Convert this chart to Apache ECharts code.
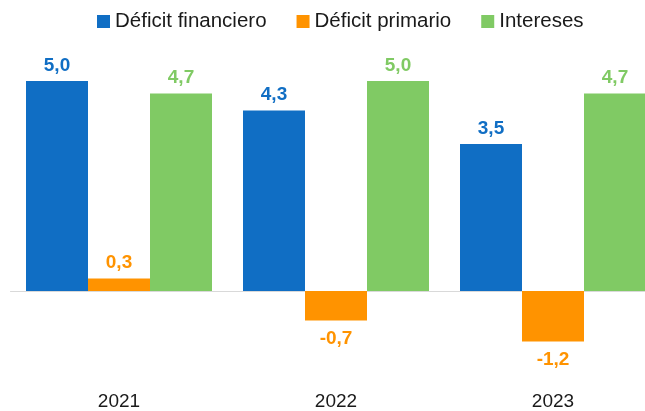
<!DOCTYPE html>
<html>
<head>
    <meta charset="utf-8">
    <title>Déficit financiero, primario e intereses</title>
</head>
<body style="margin: 0;">
    <div id="chartContainer" style="width: 645px; height: 411px;"></div>

    <script type="text/javascript" src="https://cdn.jsdelivr.net/npm/echarts@6/dist/echarts.min.js"></script>
    <script type="text/javascript">
        var years = ['2021', '2022', '2023'];
        var deficitFinanciero = [5.0, 4.3, 3.5];
        var deficitPrimario = [0.3, -0.7, -1.2];
        var intereses = [4.7, 5.0, 4.7];

        var colors = ['#106ec4', '#ff9300', '#80ca64'];

        var dom = document.getElementById('chartContainer');
        var myChart = echarts.init(dom);

        function fmt(p) {
            return p.value.toFixed(1).replace('.', ',');
        }

        // negative bars get their label underneath
        function withLabels(values) {
            return values.map(function (v) {
                return {
                    value: v,
                    label: v < 0 ? { position: 'bottom', distance: 9 } : { position: 'top', distance: 6 }
                };
            });
        }

        function makeSeries(name, values, color) {
            return {
                name: name,
                type: 'bar',
                barWidth: 62,
                barGap: '0%',
                data: withLabels(values),
                itemStyle: { color: color },
                label: {
                    show: true,
                    color: color,
                    fontSize: 19,
                    fontWeight: 'bold',
                    fontFamily: 'Liberation Sans',
                    formatter: fmt
                }
            };
        }

        var option = {
            animation: false,
            textStyle: { fontFamily: 'Liberation Sans' },
            legend: {
                top: 6,
                left: 92,
                itemWidth: 13,
                itemHeight: 13,
                itemGap: 30,
                icon: 'rect',
                textStyle: {
                    fontSize: 20.5,
                    color: '#1a1a1a'
                }
            },
            grid: {
                left: 10.5,
                right: -16.5,
                top: 60,
                bottom: 36,
                containLabel: false,
                outerBoundsMode: 'none'
            },
            xAxis: [
                {
                    // labels at the bottom of the plot
                    type: 'category',
                    data: years,
                    position: 'bottom',
                    axisLine: { show: false, onZero: false },
                    axisTick: { show: false },
                    axisLabel: {
                        margin: 17,
                        fontSize: 19,
                        color: '#1a1a1a'
                    }
                },
                {
                    // zero line
                    type: 'category',
                    data: years,
                    position: 'top',
                    axisLine: {
                        onZero: true,
                        lineStyle: { color: '#d9d9d9', width: 1 }
                    },
                    axisTick: { show: false },
                    axisLabel: { show: false }
                }
            ],
            yAxis: {
                type: 'value',
                min: -2,
                max: 5.5,
                show: false,
                splitLine: { show: false }
            },
            series: [
                makeSeries('Déficit financiero', deficitFinanciero, colors[0]),
                makeSeries('Déficit primario', deficitPrimario, colors[1]),
                makeSeries('Intereses', intereses, colors[2])
            ]
        };

        myChart.setOption(option);
    </script>
</body>
</html>
